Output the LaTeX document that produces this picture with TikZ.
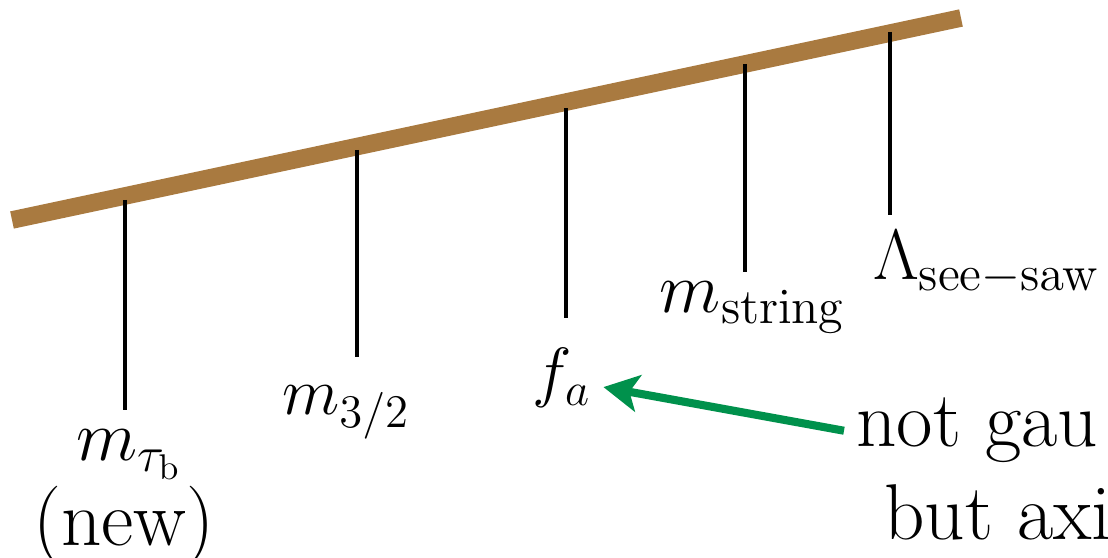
\RequirePackage{fix-cm}
\documentclass[tikz,border=0pt]{standalone}
\usetikzlibrary{arrows.meta}
\definecolor{cafe}{RGB}{169,122,64}
\definecolor{verde}{RGB}{0,145,76}
\begin{document}
\begin{tikzpicture}[x=0.01cm, y=-0.01cm,
        escala/.style={draw=cafe, line width=5pt},
        marca/.style={line width=1.42pt},
        etiqueta/.style={anchor=base, font=\fontsize{19}{23}\selectfont},
        grande/.style={font=\fontsize{20.3}{24}\selectfont},
        texto/.style={font=\fontsize{22.5}{27}\selectfont},
        flecha/.style={draw=verde, line width=2.3pt,
            -{Stealth[length=10pt, width=10.5pt, inset=2.5pt]}}]
    \useasboundingbox (0,0) rectangle (1108,558);
    % Escala de energia
    \coordinate (izq) at (12,220);
    \coordinate (der) at (961,18);
    \draw[escala] (izq) -- (der);
    % Marcas
    \foreach \i/\xi/\ya/\yb in {
        1/125/200/410, 2/357/150/357, 3/566/108/318,
        4/745/64/272, 5/890/32/215}{
        \coordinate (arriba\i) at (\xi,\ya);
        \coordinate (abajo\i) at (\xi,\yb);
        \draw[marca] (arriba\i) -- (abajo\i);
    }
    % Etiquetas
    \node[etiqueta, grande, inner sep=0pt] (mtb) at (129,461) {$m_{\tau_{\mathrm{b}}}$};
    \node[etiqueta, texto, inner sep=0pt] (nuevo) at (124,546) {(new)};
    \node[etiqueta] (m32)  at (346,415) {$m_{3/2}$};
    \node[etiqueta] (fa)   at (562,395) {$f_a$};
    \node[etiqueta, grande] (mstr) at (753,313) {$m_{\mathrm{string}}$};
    \node[etiqueta, grande] (lss)  at (987,280) {$\Lambda_{\mathrm{see-saw}}$};
    % Nota
    \node[texto, anchor=base west] (nota1) at (844,447) {not gau};
    \node[texto, anchor=base west] (nota2) at (872,540) {but axi};
    \draw[flecha] (nota1.west) -- (fa.-12);
\end{tikzpicture}
\end{document}
